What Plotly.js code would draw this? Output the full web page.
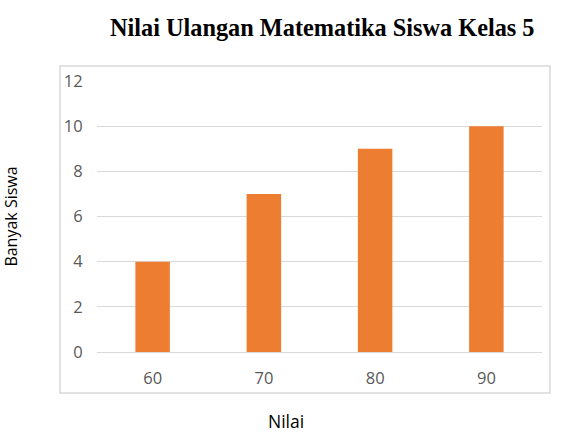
<!DOCTYPE html>
<html><head><meta charset="utf-8">
<script src="https://cdn.plot.ly/plotly-3.0.1.min.js"></script>
<style>html,body{margin:0;padding:0;background:#fff}#chart{width:587px;height:439px}</style>
</head><body><div id="chart"></div>
<script>
var categories = ['60', '70', '80', '90'];
var values = [4, 7, 9, 10];
var yTicks = [0, 2, 4, 6, 8, 10, 12];

var trace = {
  type: 'bar', x: categories, y: values,
  marker: {color: '#ED7D31'}, hoverinfo: 'x+y'
};
var layout = {
  width: 587, height: 439,
  margin: {l: 97, r: 45, t: 81, b: 87},
  paper_bgcolor: '#fff', plot_bgcolor: '#fff',
  bargap: 0.69,
  showlegend: false,
  title: {text: '<b>Nilai Ulangan Matematika Siswa Kelas 5</b>', font: {family: 'Liberation Serif, Times New Roman, serif', size: 24.3, color: '#000'}, x: 0.549, xanchor: 'center', y: 0.937, yanchor: 'middle'},
  xaxis: {type: 'category', showgrid: false, zeroline: false, showline: false,
    ticks: 'outside', ticklen: 11, tickcolor: 'rgba(0,0,0,0)',
    tickfont: {family: 'Open Sans, Liberation Sans, sans-serif', size: 16.5, color: '#595959'}},
  yaxis: {range: [0, 12], tickvals: yTicks, ticktext: yTicks.map(String),
    showgrid: true, gridcolor: '#d9d9d9', gridwidth: 1,
    zeroline: true, zerolinecolor: '#d9d9d9', zerolinewidth: 1, showline: false,
    ticks: 'outside', ticklen: 10, tickcolor: 'rgba(0,0,0,0)',
    tickfont: {family: 'Open Sans, Liberation Sans, sans-serif', size: 16.5, color: '#595959'},
    title: {text: 'Banyak Siswa', font: {family: 'Open Sans, Liberation Sans, sans-serif', size: 16, color: '#000'}, standoff: 47}},
  annotations: [{text: 'Nilai', xref: 'paper', yref: 'paper', x: (286 - 97) / 445, y: (352 - 421) / 271,
    xanchor: 'center', yanchor: 'middle', showarrow: false,
    font: {family: 'Open Sans, Liberation Sans, sans-serif', size: 17.5, color: '#000'}}],
  shapes: [{type: 'rect', xref: 'paper', yref: 'paper', x0: -0.0831, x1: 1.018, y0: -0.151, y1: 1.055,
    line: {color: '#d9d9d9', width: 1.5}, fillcolor: 'rgba(0,0,0,0)', layer: 'below'}]
};
Plotly.newPlot('chart', [trace], layout, {displayModeBar: false, staticPlot: true});
</script></body></html>
